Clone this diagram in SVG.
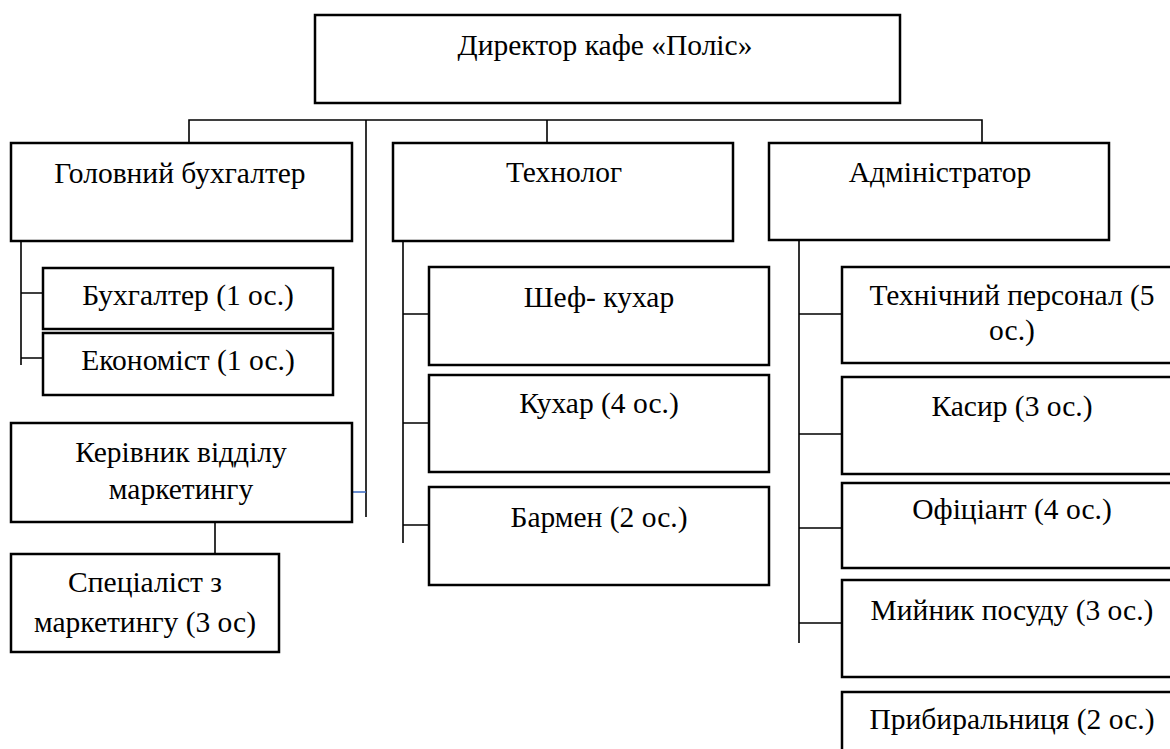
<svg xmlns="http://www.w3.org/2000/svg" width="1170" height="749" viewBox="0 0 1170 749">
<style>
.box{fill:#fff;stroke:#000;stroke-width:2.5}
.ln{stroke:#000;stroke-width:1.6;fill:none}
.blue{stroke:#4472c4;stroke-width:1.6;fill:none}
text{font-family:'Liberation Serif','Times New Roman',serif;font-size:29.5px;fill:#000;text-anchor:middle}
</style>
<rect width="1170" height="749" fill="#fff"/>
<g id="connectors">
<path class="ln" d="M189,145 V120 H982 V145"/>
<path class="ln" d="M547,120 V145"/>
<path class="ln" d="M366,120 V517"/>
<path class="blue" d="M352,492 H366"/>
<path class="ln" d="M21,240 V365 M21,293 H43 M21,358 H43"/>
<path class="ln" d="M215,522 V554"/>
<path class="ln" d="M403,240 V543 M403,314 H429 M403,423 H429 M403,525 H429"/>
<path class="ln" d="M799,240 V643 M799,314 H842 M799,434 H842 M799,528 H842 M799,623 H842"/>
</g>
<g id="director"><rect class="box" x="315" y="15" width="585" height="88"/><text x="605" y="55">Директор кафе «Поліс»</text></g>
<g id="chief-accountant"><rect class="box" x="11" y="143" width="341" height="98"/><text x="180" y="183">Головний бухгалтер</text></g>
<g id="technologist"><rect class="box" x="393" y="143" width="340" height="98"/><text x="564" y="182">Технолог</text></g>
<g id="administrator"><rect class="box" x="769" y="143" width="340" height="97"/><text x="940" y="182">Адміністратор</text></g>
<g id="accountant"><rect class="box" x="43" y="268" width="290" height="61"/><text x="188" y="305">Бухгалтер (1 ос.)</text></g>
<g id="economist"><rect class="box" x="43" y="333" width="290" height="62"/><text x="188" y="370">Економіст (1 ос.)</text></g>
<g id="marketing-head"><rect class="box" x="11" y="423" width="341" height="99"/><text x="181" y="462">Керівник відділу</text><text x="181" y="499">маркетингу</text></g>
<g id="marketing-specialist"><rect class="box" x="11" y="554" width="268" height="98"/><text x="145" y="592">Спеціаліст з</text><text x="145" y="632">маркетингу (3 ос)</text></g>
<g id="chef"><rect class="box" x="429" y="267" width="340" height="98"/><text x="599" y="307">Шеф- кухар</text></g>
<g id="cook"><rect class="box" x="429" y="375" width="340" height="97"/><text x="599" y="413">Кухар (4 ос.)</text></g>
<g id="barman"><rect class="box" x="429" y="487" width="340" height="98"/><text x="599" y="527">Бармен (2 ос.)</text></g>
<g id="tech-staff"><rect class="box" x="842" y="267" width="340" height="96"/><text x="1012" y="305">Технічний персонал (5</text><text x="1012" y="340">ос.)</text></g>
<g id="cashier"><rect class="box" x="842" y="377" width="340" height="97"/><text x="1012" y="416">Касир (3 ос.)</text></g>
<g id="waiter"><rect class="box" x="842" y="483" width="340" height="85"/><text x="1012" y="519">Офіціант (4 ос.)</text></g>
<g id="dishwasher"><rect class="box" x="842" y="580" width="340" height="97"/><text x="1012" y="620">Мийник посуду (3 ос.)</text></g>
<g id="cleaner"><rect class="box" x="842" y="692" width="340" height="98"/><text x="1012" y="729">Прибиральниця (2 ос.)</text></g>
</svg>
